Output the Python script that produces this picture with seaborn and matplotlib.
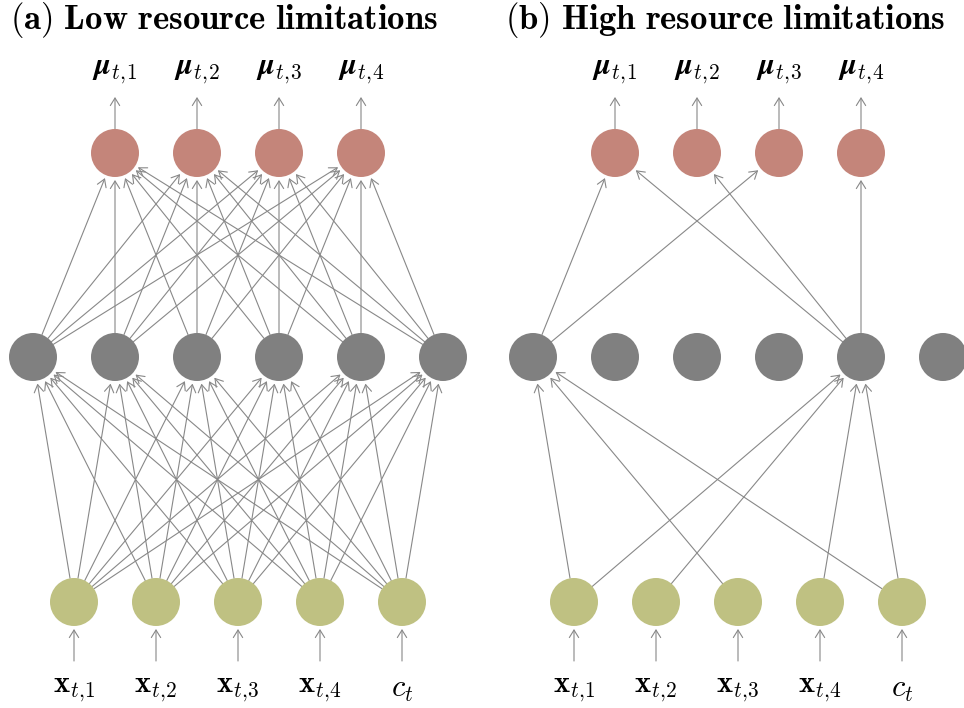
import numpy as np
import pandas as pd
import matplotlib
matplotlib.use("Agg")
import matplotlib.pyplot as plt
import seaborn as sns

# ---- data ----
panel_titles = ["(a) Low resource limitations", "(b) High resource limitations"]
input_labels = [r"$\mathbf{x}_{t,\!1}$", r"$\mathbf{x}_{t,\!2}$", r"$\mathbf{x}_{t,\!3}$",
                r"$\mathbf{x}_{t,\!4}$", r"$c_t$"]
output_labels = [r"$\mathbfit{\mu}_{t,\!1}$", r"$\mathbfit{\mu}_{t,\!2}$",
                 r"$\mathbfit{\mu}_{t,\!3}$", r"$\mathbfit{\mu}_{t,\!4}$"]
n_input, n_hidden, n_output = 5, 6, 4

# edges (source index, target index)
edges_a_in_hid = [(i, h) for i in range(n_input) for h in range(n_hidden)]
edges_a_hid_out = [(h, o) for h in range(n_hidden) for o in range(n_output)]
edges_b_in_hid = [(0, 0), (0, 4), (1, 4), (2, 0), (3, 4), (4, 0), (4, 4)]
edges_b_hid_out = [(0, 0), (0, 2), (4, 0), (4, 1), (4, 3)]

# ---- style ----
sns.set_theme(style="white")
plt.rcParams["mathtext.fontset"] = "cm"
plt.rcParams["font.family"] = ["DejaVu Serif"]
plt.rcParams["text.color"] = "black"

C_OUT = "#C4857A"
C_HID = "#808080"
C_IN = "#BFC182"
C_EDGE = "#888888"
R = 24.0
GAP = 3.0
SP = 82.0
Y_OUT, Y_HID, Y_IN = 153.0, 357.0, 602.0

fig = plt.figure(figsize=(9.64, 7.08), dpi=100)
ax = fig.add_axes([0, 0, 1, 1])

arrow_style = "->,head_length=0.45,head_width=0.28"


def arrow(p0, p1, r0, r1):
    p0 = np.array(p0, float)
    p1 = np.array(p1, float)
    d = p1 - p0
    u = d / np.linalg.norm(d)
    s = p0 + u * r0
    e = p1 - u * r1
    ax.annotate("", xy=e, xytext=s,
                arrowprops=dict(arrowstyle=arrow_style, color=C_EDGE, lw=0.8,
                                shrinkA=0, shrinkB=0), zorder=1)


panels = [(0.0, edges_a_in_hid, edges_a_hid_out), (500.0, edges_b_in_hid, edges_b_hid_out)]
rows = []
for k, (x0, e_ih, e_ho) in enumerate(panels):
    xs_hid = [x0 + 33 + SP * i for i in range(n_hidden)]
    xs_in = [x0 + 74 + SP * i for i in range(n_input)]
    xs_out = [x0 + 115 + SP * i for i in range(n_output)]
    for x in xs_in:
        rows.append(dict(x=x, y=Y_IN, layer="in"))
    for x in xs_hid:
        rows.append(dict(x=x, y=Y_HID, layer="hid"))
    for x in xs_out:
        rows.append(dict(x=x, y=Y_OUT, layer="out"))

    for (i, h) in e_ih:
        arrow((xs_in[i], Y_IN), (xs_hid[h], Y_HID), R, R + GAP)
    for (h, o) in e_ho:
        arrow((xs_hid[h], Y_HID), (xs_out[o], Y_OUT), R, R + GAP)
    # label arrows
    for i, x in enumerate(xs_in):
        arrow((x, 661), (x, Y_IN), 0, R + GAP)
        ax.text(x, 689, input_labels[i], ha="center", va="center", fontsize=22,
                color="black")
    for o, x in enumerate(xs_out):
        arrow((x, Y_OUT), (x, 97), R, 0)
        ax.text(x, 70, output_labels[o], ha="center", va="center", fontsize=22,
                color="black")

    title = panel_titles[k].replace(" ", r"\ ")
    ax.text(x0 + 10 - (5 if k else 0), 20, r"$\mathbf{" + title + "}$",
            ha="left", va="center", fontsize=25, color="black")

nodes = pd.DataFrame(rows)
sns.scatterplot(data=nodes, x="x", y="y", hue="layer",
                palette={"in": C_IN, "hid": C_HID, "out": C_OUT},
                s=(2 * R * 0.72) ** 2, linewidth=0, legend=False, ax=ax, zorder=3)
ax.set_xlim(0, 964)
ax.set_ylim(708, 0)
ax.axis("off")

fig.savefig("out.png", dpi=100)
